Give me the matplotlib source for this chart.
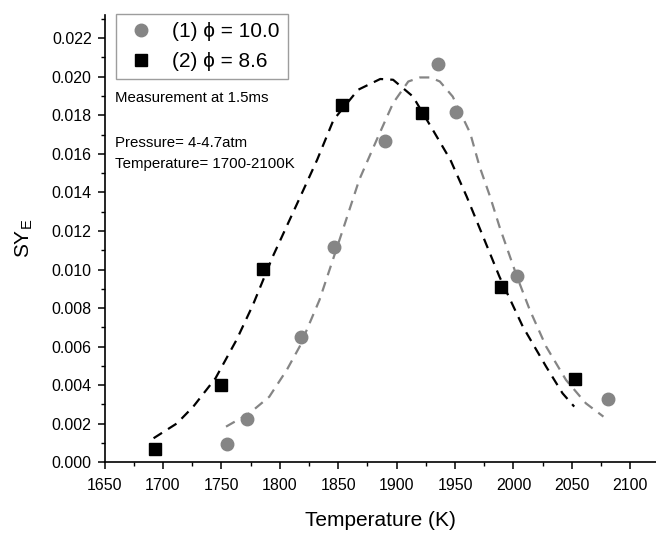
import matplotlib
matplotlib.use("Agg")
from matplotlib import pyplot as plt
from matplotlib.ticker import MultipleLocator

plt.rcParams['font.family'] = ['Liberation Sans', 'DejaVu Sans']

# measured points, series (1) phi = 10.0
temp_1 = [1755, 1772, 1818, 1846, 1890, 1935, 1951, 2003, 2081]
sye_1 = [0.00095, 0.00225, 0.00652, 0.01119, 0.01667, 0.02065, 0.01818, 0.00967, 0.00328]

# measured points, series (2) phi = 8.6
temp_2 = [1693, 1750, 1786, 1853, 1922, 1989, 2053]
sye_2 = [0.00069, 0.0040, 0.01003, 0.01854, 0.01811, 0.00908, 0.00431]

# fitted curves
fit_t_1 = [1754, 1774, 1791, 1806, 1817, 1834, 1854, 1868, 1883, 1897, 1905, 1910,
           1920, 1929, 1937, 1948, 1963, 1971, 1980, 1988, 1997, 2003, 2014, 2028,
           2045, 2062, 2077]
fit_y_1 = [0.00185, 0.00254, 0.0034, 0.00479, 0.006, 0.00842, 0.01206, 0.01465,
           0.01673, 0.01863, 0.01932, 0.01975, 0.01996, 0.01996, 0.01975, 0.01897,
           0.01707, 0.01534, 0.01378, 0.01223, 0.01067, 0.00963, 0.0079, 0.006,
           0.00427, 0.00306, 0.00237]

fit_t_2 = [1692, 1712, 1726, 1745, 1763, 1777, 1794, 1817, 1832, 1846, 1867, 1886,
           1897, 1914, 1931, 1946, 1960, 1974, 1988, 2008, 2028, 2042, 2052]
fit_y_2 = [0.00125, 0.00202, 0.00289, 0.00436, 0.00635, 0.00816, 0.01067, 0.0137,
           0.01569, 0.01776, 0.01932, 0.01988, 0.01984, 0.01897, 0.01724, 0.01569,
           0.01378, 0.01171, 0.00963, 0.00704, 0.00496, 0.00358, 0.00289]

GRAY = '#858585'

fig = plt.figure(figsize=(6.56, 5.33), dpi=100)
ax = fig.add_axes([0.1593, 0.1326, 0.8407, 0.8393])

ax.plot(fit_t_2, fit_y_2, color='black', lw=1.6, dashes=(4.5, 3.2))
ax.plot(fit_t_1, fit_y_1, color=GRAY, lw=1.6, dashes=(4.5, 3.2))

ax.plot(temp_1, sye_1, 'o', color=GRAY, ms=9, label='(1) \u03d5 = 10.0', zorder=3)
ax.plot(temp_2, sye_2, 's', color='black', ms=8.5, label='(2) \u03d5 = 8.6', zorder=3)

ax.set_xlim(1650, 2122)
ax.set_ylim(0, 0.0232)
ax.xaxis.set_major_locator(MultipleLocator(50))
ax.xaxis.set_minor_locator(MultipleLocator(25))
ax.yaxis.set_major_locator(MultipleLocator(0.002))
ax.yaxis.set_minor_locator(MultipleLocator(0.001))
ax.yaxis.set_major_formatter(plt.FormatStrFormatter('%.3f'))

for side in ['top', 'right']:
    ax.spines[side].set_visible(False)
for side in ['left', 'bottom']:
    ax.spines[side].set_linewidth(1.2)
ax.tick_params(which='major', direction='out', length=5.2, width=1.1, labelsize=11.5)
ax.tick_params(which='minor', direction='out', length=3.0, width=1.0)
ax.tick_params(axis='x', which='major', pad=6)
ax.tick_params(axis='y', which='major', pad=4)

ax.set_xlabel('Temperature (K)', fontsize=15, labelpad=13)
ax.set_ylabel(r'SY$_\mathregular{E}$', fontsize=15, labelpad=12)

leg = ax.legend(loc='upper left', bbox_to_anchor=(0.021, 1.002), fontsize=15,
                frameon=True, fancybox=False, handletextpad=0.7, handlelength=1.59,
                borderpad=0.4, labelspacing=0.5, borderaxespad=0)
leg.get_frame().set_edgecolor(GRAY)
leg.get_frame().set_linewidth(1.0)

ax.text(0.019, 0.815, 'Measurement at 1.5ms', transform=ax.transAxes, fontsize=10.8, va='center')
ax.text(0.019, 0.7145, 'Pressure= 4-4.7atm', transform=ax.transAxes, fontsize=10.8, va='center')
ax.text(0.019, 0.6676, 'Temperature= 1700-2100K', transform=ax.transAxes, fontsize=10.8, va='center')

fig.savefig('out.png', dpi=100)
